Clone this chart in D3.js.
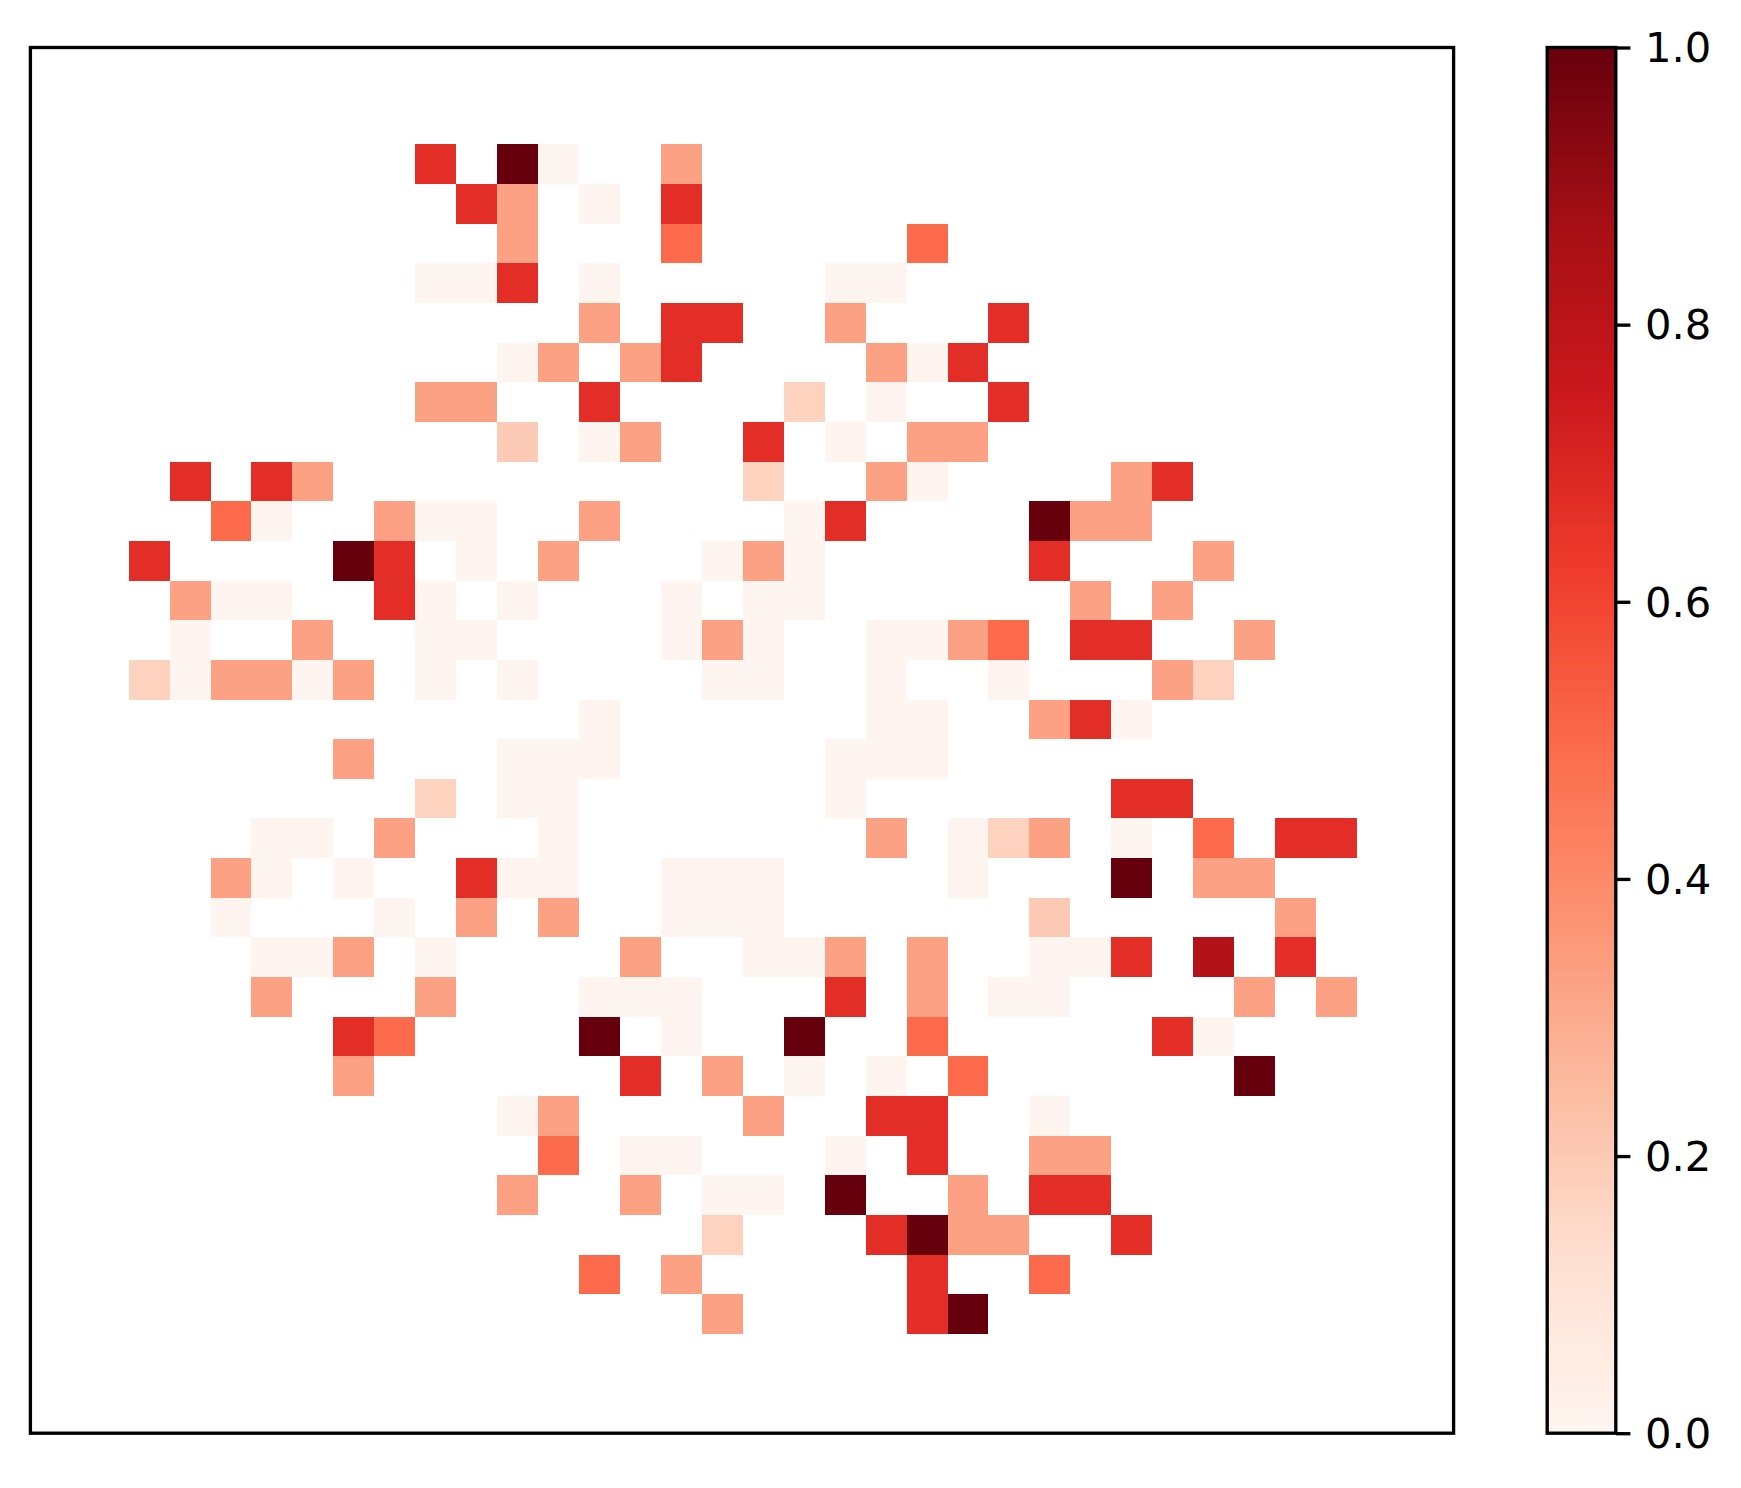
<!DOCTYPE html>
<html>
<head>
<meta charset="utf-8">
<script src="https://cdn.jsdelivr.net/npm/d3@7"></script>
<style>
html,body{margin:0;padding:0;background:#fff;}
svg{display:block;}
</style>
</head>
<body>
<svg id="chart" width="1741" height="1488"></svg>
<script>
// Each row lists [column, value] for the cells that hold a value; others are empty.
const row00 = [[7,.67],[9,1],[10,0],[13,.33]];
const row01 = [[8,.67],[9,.33],[11,0],[13,.67]];
const row02 = [[9,.33],[13,.5],[19,.5]];
const row03 = [[7,0],[8,0],[9,.67],[11,0],[17,0],[18,0]];
const row04 = [[11,.33],[13,.67],[14,.67],[17,.33],[21,.67]];
const row05 = [[9,0],[10,.33],[12,.33],[13,.67],[18,.33],[19,0],[20,.67]];
const row06 = [[7,.33],[8,.33],[11,.67],[16,.17],[18,0],[21,.67]];
const row07 = [[9,.2],[11,0],[12,.33],[15,.67],[17,0],[19,.33],[20,.33]];
const row08 = [[1,.67],[3,.67],[4,.33],[15,.17],[18,.33],[19,0],[24,.33],[25,.67]];
const row09 = [[2,.5],[3,0],[6,.33],[7,0],[8,0],[11,.33],[16,0],[17,.67],[22,1],[23,.33],[24,.33]];
const row10 = [[0,.67],[5,1],[6,.67],[8,0],[10,.33],[14,0],[15,.33],[16,0],[22,.67],[26,.33]];
const row11 = [[1,.33],[2,0],[3,0],[6,.67],[7,0],[9,0],[13,0],[15,0],[16,0],[23,.33],[25,.33]];
const row12 = [[1,0],[4,.33],[7,0],[8,0],[13,0],[14,.33],[15,0],[18,0],[19,0],[20,.33],[21,.5],[23,.67],[24,.67],[27,.33]];
const row13 = [[0,.17],[1,0],[2,.33],[3,.33],[4,0],[5,.33],[7,0],[9,0],[14,0],[15,0],[18,0],[21,0],[25,.33],[26,.17]];
const row14 = [[11,0],[18,0],[19,0],[22,.33],[23,.67],[24,0]];
const row15 = [[5,.33],[9,0],[10,0],[11,0],[17,0],[18,0],[19,0]];
const row16 = [[7,.17],[9,0],[10,0],[17,0],[24,.67],[25,.67]];
const row17 = [[3,0],[4,0],[6,.33],[10,0],[18,.33],[20,0],[21,.17],[22,.33],[24,0],[26,.5],[28,.67],[29,.67]];
const row18 = [[2,.33],[3,0],[5,0],[8,.67],[9,0],[10,0],[13,0],[14,0],[15,0],[20,0],[24,1],[26,.33],[27,.33]];
const row19 = [[2,0],[6,0],[8,.33],[10,.33],[13,0],[14,0],[15,0],[22,.2],[28,.33]];
const row20 = [[3,0],[4,0],[5,.33],[7,0],[12,.33],[15,0],[16,0],[17,.33],[19,.33],[22,0],[23,0],[24,.67],[26,.83],[28,.67]];
const row21 = [[3,.33],[7,.33],[11,0],[12,0],[13,0],[17,.67],[19,.33],[21,0],[22,0],[27,.33],[29,.33]];
const row22 = [[5,.67],[6,.5],[11,1],[13,0],[16,1],[19,.5],[25,.67],[26,0]];
const row23 = [[5,.33],[12,.67],[14,.33],[16,0],[18,0],[20,.5],[27,1]];
const row24 = [[9,0],[10,.33],[15,.33],[18,.67],[19,.67],[22,0]];
const row25 = [[10,.5],[12,0],[13,0],[17,0],[19,.67],[22,.33],[23,.33]];
const row26 = [[9,.33],[12,.33],[14,0],[15,0],[17,1],[20,.33],[22,.67],[23,.67]];
const row27 = [[14,.17],[18,.67],[19,1],[20,.33],[21,.33],[24,.67]];
const row28 = [[11,.5],[13,.33],[19,.67],[22,.5]];
const row29 = [[14,.33],[19,.67],[20,1]];
const rows = [row00,row01,row02,row03,row04,row05,row06,row07,row08,row09,
              row10,row11,row12,row13,row14,row15,row16,row17,row18,row19,
              row20,row21,row22,row23,row24,row25,row26,row27,row28,row29];
const colorbarTicks = [0, 0.2, 0.4, 0.6, 0.8, 1.0];
const redsStops = ["#fff5f0","#fee0d2","#fcbba1","#fc9272","#fb6a4a","#ef3b2c","#cb181d","#a50f15","#67000d"];

const plot = {left:30.4, right:1453.6, top:47.5, bottom:1433.2};
const bar = {left:1547.2, right:1615.8};
const lw = 3.33;

const svg = d3.select("#chart");
const x = d3.scaleLinear().domain([-2.4,32.36]).range([plot.left,plot.right]);
const y = d3.scaleLinear().domain([-2.44,32.5]).range([plot.top,plot.bottom]);
const color = d3.scaleLinear()
  .domain(redsStops.map((d,i)=>i/(redsStops.length-1)))
  .range(redsStops)
  .interpolate(d3.interpolateRgb);

const cells = rows.flatMap((r,ri)=>r.map(([c,v])=>({r:ri,c,v})));
svg.append("g").selectAll("rect").data(cells).join("rect")
  .attr("x",d=>x(d.c)).attr("y",d=>y(d.r))
  .attr("width",d=>x(d.c+1)-x(d.c)).attr("height",d=>y(d.r+1)-y(d.r))
  .attr("fill",d=>color(d.v))
  .attr("shape-rendering","crispEdges");

svg.append("rect")
  .attr("x",plot.left).attr("y",plot.top)
  .attr("width",plot.right-plot.left).attr("height",plot.bottom-plot.top)
  .attr("fill","none").attr("stroke","#000").attr("stroke-width",lw);

// Colorbar
const cy = d3.scaleLinear().domain([0,1]).range([plot.bottom,plot.top]);
const levels = d3.range(256).map(i=>i/256);
svg.append("g").selectAll("rect").data(levels).join("rect")
  .attr("x",bar.left).attr("width",bar.right-bar.left)
  .attr("y",d=>cy(d+1/256)).attr("height",d=>cy(d)-cy(d+1/256)+0.6)
  .attr("fill",d=>color(d+1/512))
  .attr("shape-rendering","crispEdges");
svg.append("rect")
  .attr("x",bar.left).attr("y",plot.top)
  .attr("width",bar.right-bar.left).attr("height",plot.bottom-plot.top)
  .attr("fill","none").attr("stroke","#000").attr("stroke-width",lw);

const axis = d3.axisRight(cy).tickValues(colorbarTicks).tickFormat(d3.format(".1f"))
  .tickSize(14.6).tickPadding(14.6);
const ag = svg.append("g").attr("transform",`translate(${bar.right},0)`).call(axis);
ag.select(".domain").remove();
ag.selectAll(".tick line").attr("stroke","#000").attr("stroke-width",lw);
ag.selectAll(".tick text")
  .attr("fill","#000")
  .attr("font-family","'DejaVu Sans'")
  .attr("font-size",41.7)
  .attr("y",1);
</script>
</body>
</html>
